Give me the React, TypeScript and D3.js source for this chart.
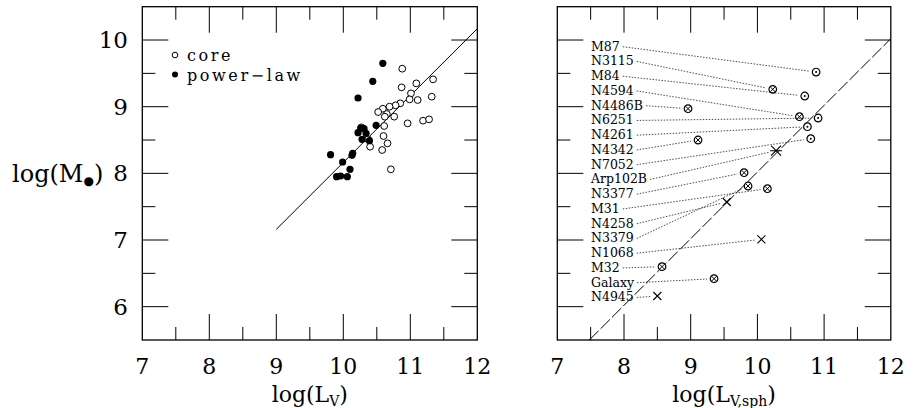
import React, { useEffect, useRef } from "react";
import * as d3 from "d3";

// ---- Left panel data ----
const coreX = [10.88, 11.09, 11.34, 10.87, 11.01, 10.99, 11.11, 11.32, 10.85, 10.78, 10.69, 10.59, 10.52, 10.65, 10.76, 10.62, 10.96, 11.19, 11.28, 10.61, 10.6, 10.4, 10.66, 10.58, 10.71, 10.37, 10.27];
const coreY = [9.57, 9.35, 9.41, 9.29, 9.2, 9.11, 9.1, 9.15, 9.05, 9.02, 9.0, 8.97, 8.92, 8.89, 8.85, 8.85, 8.75, 8.79, 8.81, 8.71, 8.56, 8.4, 8.45, 8.35, 8.06, 8.51, 8.69];
const plawX = [10.59, 10.44, 10.22, 10.49, 10.26, 10.31, 10.22, 10.34, 10.28, 10.39, 10.14, 10.13, 9.81, 9.99, 10.1, 9.96, 9.9, 10.06];
const plawY = [9.65, 9.38, 9.13, 8.72, 8.68, 8.67, 8.61, 8.6, 8.51, 8.49, 8.3, 8.27, 8.28, 8.17, 8.06, 7.96, 7.95, 7.95];
const fitLX = [9, 12];
const fitLY = [7.16, 10.17];

// ---- Right panel data ----
const galNames = ["M87", "N3115", "M84", "N4594", "N4486B", "N6251", "N4261", "N4342", "N7052", "Arp102B", "N3377", "M31", "N4258", "N3379", "N1068", "M32", "Galaxy", "N4945"];
const galX = [10.88, 10.23, 10.71, 10.63, 8.96, 10.91, 10.75, 9.11, 10.8, 10.28, 9.8, 10.15, 9.54, 9.86, 10.06, 8.57, 9.35, 8.5];
const galY = [9.52, 9.26, 9.16, 8.85, 8.97, 8.83, 8.7, 8.5, 8.52, 8.34, 8.01, 7.77, 7.57, 7.81, 7.01, 6.6, 6.42, 6.16];
const galType = ["gas", "star", "gas", "star", "star", "gas", "gas", "star", "gas", "ast", "star", "star", "maser", "star", "maser", "star", "star", "maser"];
const fitRX = [7.48, 12];
const fitRY = [5.5, 10.02];

const xTicks = [7, 8, 9, 10, 11, 12];
const yTicks = [6, 7, 8, 9, 10];

const FONT = "'DejaVu Serif', serif";

export default function App() {
  const ref = useRef<SVGSVGElement>(null);

  useEffect(() => {
    const svg = d3.select(ref.current);
    svg.selectAll("*").remove();
    const yS = d3.scaleLinear().domain([5.5, 10.5]).range([340, 6.7]);
    const xL = d3.scaleLinear().domain([7, 12]).range([142.3, 477.3]);
    const xR = d3.scaleLinear().domain([7, 12]).range([557.3, 890.8]);

    const drawFrame = (xs: any) => {
      const g = svg.append("g");
      const [x0, x1] = xs.range();
      const [y0, y1] = yS.range();
      g.append("rect").attr("x", x0).attr("y", y1).attr("width", x1 - x0).attr("height", y0 - y1)
        .attr("fill", "none").attr("stroke", "#000").attr("stroke-width", 1.3);
      d3.range(7.5, 12, 0.5).forEach((v) => {
        const len = Number.isInteger(v) ? 26 : 13;
        const x = xs(v);
        g.append("line").attr("x1", x).attr("x2", x).attr("y1", y0).attr("y2", y0 - len).attr("stroke", "#000").attr("stroke-width", 1);
        g.append("line").attr("x1", x).attr("x2", x).attr("y1", y1).attr("y2", y1 + len).attr("stroke", "#000").attr("stroke-width", 1);
      });
      d3.range(6, 10.5, 0.5).forEach((v) => {
        const len = Number.isInteger(v) ? 26 : 13;
        const y = yS(v);
        g.append("line").attr("x1", x0).attr("x2", x0 + len).attr("y1", y).attr("y2", y).attr("stroke", "#000").attr("stroke-width", 1);
        g.append("line").attr("x1", x1).attr("x2", x1 - len).attr("y1", y).attr("y2", y).attr("stroke", "#000").attr("stroke-width", 1);
      });
      xTicks.forEach((v) => {
        g.append("text").attr("x", xs(v)).attr("y", 374).attr("text-anchor", "middle")
          .attr("font-family", FONT).attr("font-size", 22).text(String(v));
      });
    };
    drawFrame(xL);
    drawFrame(xR);

    // y tick labels (left panel only)
    yTicks.forEach((v) => {
      svg.append("text").attr("x", 128).attr("y", yS(v) + 8).attr("text-anchor", "end")
        .attr("font-family", FONT).attr("font-size", 23).text(String(v));
    });

    // Left fit line
    svg.append("line").attr("x1", xL(fitLX[0])).attr("y1", yS(fitLY[0])).attr("x2", xL(fitLX[1])).attr("y2", yS(fitLY[1]))
      .attr("stroke", "#000").attr("stroke-width", 1);

    // Left points
    coreX.forEach((x, i) => {
      svg.append("circle").attr("cx", xL(x)).attr("cy", yS(coreY[i])).attr("r", 3.4)
        .attr("fill", "#fff").attr("stroke", "#000").attr("stroke-width", 1);
    });
    plawX.forEach((x, i) => {
      svg.append("circle").attr("cx", xL(x)).attr("cy", yS(plawY[i])).attr("r", 3.6).attr("fill", "#000");
    });

    // Legend
    svg.append("circle").attr("cx", 175).attr("cy", 55).attr("r", 2.8).attr("fill", "#fff").attr("stroke", "#000").attr("stroke-width", 1);
    svg.append("text").attr("x", 187).attr("y", 61).attr("font-family", FONT).attr("font-size", 16).attr("letter-spacing", 2.6).text("core");
    svg.append("circle").attr("cx", 175).attr("cy", 74.5).attr("r", 3).attr("fill", "#000");
    svg.append("text").attr("x", 187).attr("y", 80.5).attr("font-family", FONT).attr("font-size", 16).attr("letter-spacing", 2.6).text("power\u2212law");

    // Right dashed line
    svg.append("line").attr("x1", xR(fitRX[0])).attr("y1", yS(fitRY[0])).attr("x2", xR(fitRX[1])).attr("y2", yS(fitRY[1]))
      .attr("stroke", "#000").attr("stroke-width", 1).attr("stroke-dasharray", "13,3");

    // Right labels + leaders + markers
    galNames.forEach((name, i) => {
      const by = 50.7 + i * 14.75;
      const t = svg.append("text").attr("x", 591).attr("y", by).attr("font-family", FONT).attr("font-size", 12.5).text(name);
      const len = (t.node() as SVGTextElement).getComputedTextLength();
      const sx = 591 + len + 3;
      const sy = by - 4;
      const mx = xR(galX[i]);
      const my = yS(galY[i]);
      const dx = mx - sx, dy = my - sy;
      const d = Math.sqrt(dx * dx + dy * dy);
      const ex = mx - (dx / d) * 7;
      const ey = my - (dy / d) * 7;
      svg.append("line").attr("x1", sx).attr("y1", sy).attr("x2", ex).attr("y2", ey)
        .attr("stroke", "#000").attr("stroke-width", 0.7).attr("stroke-dasharray", "1.5,1.5");
      const g = svg.append("g").attr("transform", `translate(${mx},${my})`);
      const type = galType[i];
      if (type === "gas" || type === "star") {
        g.append("circle").attr("r", 3.8).attr("fill", "#fff").attr("stroke", "#000").attr("stroke-width", 1.2);
        if (type === "gas") {
          g.append("circle").attr("r", 1).attr("fill", "#000");
        } else {
          const s = 2.4;
          g.append("path").attr("d", `M${-s},${-s}L${s},${s}M${-s},${s}L${s},${-s}`).attr("stroke", "#000").attr("stroke-width", 1);
        }
      } else if (type === "maser") {
        const s = 4;
        g.append("path").attr("d", `M${-s},${-s}L${s},${s}M${-s},${s}L${s},${-s}`).attr("stroke", "#000").attr("stroke-width", 1.1);
      } else {
        const s = 5;
        g.append("path").attr("d", `M${-s},${-s}L${s},${s}M${-s},${s}L${s},${-s}M${-s * 1.2},0L${s * 1.2},0`).attr("stroke", "#000").attr("stroke-width", 1.1);
      }
    });

    // Axis titles
    const tl = svg.append("text").attr("x", 12).attr("y", 182).attr("font-family", FONT).attr("font-size", 24);
    tl.append("tspan").text("log(M");
    tl.append("tspan").attr("font-size", 12).attr("dy", 3).text("\u25CF");
    tl.append("tspan").attr("dy", -3).text(")");

    const bl = svg.append("text").attr("x", xL(9.5)).attr("y", 402).attr("font-family", FONT).attr("font-size", 22).attr("text-anchor", "middle");
    bl.append("tspan").text("log(L");
    bl.append("tspan").attr("font-size", 14).attr("dy", 4).text("V");
    bl.append("tspan").attr("dy", -4).text(")");

    const br = svg.append("text").attr("x", xR(9.5)).attr("y", 402).attr("font-family", FONT).attr("font-size", 22).attr("text-anchor", "middle");
    br.append("tspan").text("log(L");
    br.append("tspan").attr("font-size", 14).attr("dy", 4).text("V,sph");
    br.append("tspan").attr("dy", -4).text(")");
  }, []);

  return (
    <svg ref={ref} width={913} height={408} style={{ position: "absolute", left: 0, top: 0, background: "#fff" }} />
  );
}
